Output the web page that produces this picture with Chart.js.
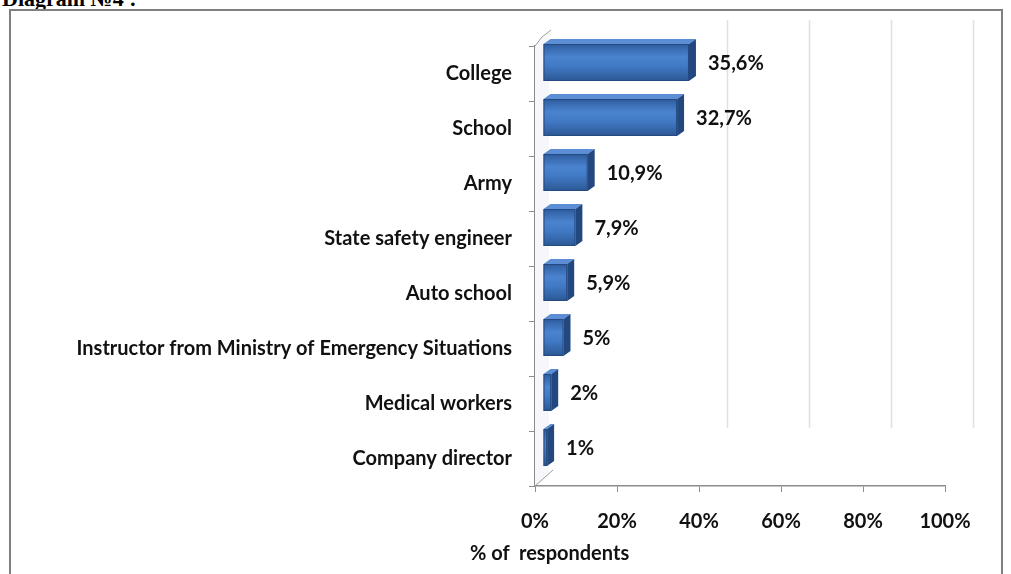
<!DOCTYPE html>
<html>
<head>
<meta charset="utf-8">
<script src="https://cdn.jsdelivr.net/npm/chart.js@4.4.0/dist/chart.umd.min.js"></script>
<style>
  body { margin: 0; background: #fff; width: 1011px; height: 574px; overflow: hidden; position: relative; }
  #heading { position: absolute; left: 2px; top: -14px; font: bold 22px "Liberation Serif", serif; color: #000; }
  #frame { position: absolute; left: 9px; top: 9px; width: 990px; height: 580px; border: 2px solid #808080; }
  #wrap { position: absolute; left: 0; top: 0; width: 1011px; height: 574px; }
  #xtitle { position: absolute; left: 470px; top: 540px; font: bold 20px Lato, sans-serif; color: #111; white-space: nowrap; }
</style>
</head>
<body>
<div id="heading">Diagram №4 :</div>
<div id="frame"></div>
<div id="wrap"><canvas id="chart" width="1011" height="574"></canvas></div>
<div id="xtitle">% of&nbsp; respondents</div>
<script>
// Chart data
const categories = ['College', 'School', 'Army', 'State safety engineer', 'Auto school',
    'Instructor from Ministry of Emergency Situations', 'Medical workers', 'Company director'];
const values = [35.6, 32.7, 10.9, 7.9, 5.9, 5, 2, 1];
const valueLabels = ['35,6%', '32,7%', '10,9%', '7,9%', '5,9%', '5%', '2%', '1%'];
const xTicks = [0, 20, 40, 60, 80, 100];

// 3D look: bars sit a bit up and right of the axis, with a thin top and right face
const shiftX = 8, shiftY = -11, depth = 7;
const wallX = 28, wallY = -26;

// back wall gridlines and the side wall edges
const wall3d = {
    id: 'wall3d',
    beforeDatasetsDraw(chart) {
        const ctx = chart.ctx;
        const area = chart.chartArea;
        const xs = chart.scales.x;
        ctx.save();
        ctx.strokeStyle = '#e0e0e0';
        ctx.lineWidth = 1.5;
        xTicks.slice(2).forEach(v => {
            const px = Math.round(xs.getPixelForValue(v)) + wallX + 0.5;
            ctx.beginPath();
            ctx.moveTo(px, area.top + wallY);
            ctx.lineTo(px, area.bottom - 58);
            ctx.stroke();
        });
        // side wall
        ctx.fillStyle = '#f5f7fa';
        ctx.beginPath();
        ctx.moveTo(area.left, area.top);
        ctx.lineTo(area.left + 14, area.top - 14);
        ctx.lineTo(area.left + 14, area.bottom - 14);
        ctx.lineTo(area.left, area.bottom);
        ctx.closePath();
        ctx.fill();
        ctx.strokeStyle = '#9a9a9a';
        ctx.lineWidth = 1;
        ctx.beginPath();
        ctx.moveTo(area.left, area.top);
        ctx.quadraticCurveTo(area.left + 6, area.top - 10, area.left + 16, area.top - 16);
        ctx.moveTo(area.left, area.bottom);
        ctx.lineTo(area.left + 18, area.bottom - 16);
        ctx.stroke();
        ctx.restore();
    }
};

// draw each bar box from the element position
const bar3d = {
    id: 'bar3d',
    afterDatasetsDraw(chart) {
        const ctx = chart.ctx;
        chart.getDatasetMeta(0).data.forEach(bar => {
            const x0 = bar.base + shiftX, x1 = bar.x + shiftX;
            const cy = bar.y + shiftY;
            const top = cy - bar.height / 2, bottom = cy + bar.height / 2;
            ctx.save();
            // front face
            const g = ctx.createLinearGradient(0, top, 0, bottom);
            g.addColorStop(0, '#2f5d9f');
            g.addColorStop(0.35, '#4a83cf');
            g.addColorStop(0.6, '#4179c4');
            g.addColorStop(1, '#2b5895');
            ctx.fillStyle = g;
            ctx.fillRect(x0, top, x1 - x0, bottom - top);
            ctx.strokeStyle = '#24497f';
            ctx.lineWidth = 1;
            ctx.strokeRect(x0 + 0.5, top + 0.5, x1 - x0 - 1, bottom - top - 1);
            // top face
            ctx.beginPath();
            ctx.moveTo(x0, top);
            ctx.lineTo(x0 + depth, top - depth + 2);
            ctx.lineTo(x1 + depth, top - depth + 2);
            ctx.lineTo(x1, top);
            ctx.closePath();
            ctx.fillStyle = '#5b8ed4';
            ctx.fill();
            // right face
            ctx.beginPath();
            ctx.moveTo(x1, top);
            ctx.lineTo(x1 + depth, top - depth + 2);
            ctx.lineTo(x1 + depth, bottom - depth + 2);
            ctx.lineTo(x1, bottom);
            ctx.closePath();
            ctx.fillStyle = '#22487f';
            ctx.fill();
            ctx.restore();
        });
    }
};

// value labels next to each bar
const valueText = {
    id: 'valueText',
    afterDatasetsDraw(chart) {
        const ctx = chart.ctx;
        ctx.save();
        ctx.font = 'bold 20px Lato, sans-serif';
        ctx.fillStyle = '#111';
        ctx.textBaseline = 'middle';
        chart.getDatasetMeta(0).data.forEach((bar, i) => {
            ctx.fillText(valueLabels[i], bar.x + shiftX + depth + 12, bar.y + shiftY + 1);
        });
        ctx.restore();
    }
};

const ctx = document.getElementById('chart').getContext('2d');
new Chart(ctx, {
    type: 'bar',
    data: {
        labels: categories,
        datasets: [{
            data: values,
            backgroundColor: 'rgba(0,0,0,0)',
            borderWidth: 0,
            barPercentage: 0.67,
            categoryPercentage: 1
        }]
    },
    options: {
        indexAxis: 'y',
        responsive: false,
        animation: false,
        layout: { padding: { top: 46, right: 66, left: 0, bottom: 0 } },
        plugins: { legend: { display: false }, tooltip: { enabled: false } },
        scales: {
            x: {
                min: 0,
                max: 100,
                afterBuildTicks: (scale) => { scale.ticks = xTicks.map(v => ({ value: v })); },
                afterFit: (scale) => { scale.height = 88; },
                border: { color: '#8c8c8c', width: 1.5 },
                grid: { drawOnChartArea: false, tickLength: 6, tickColor: '#8c8c8c' },
                ticks: {
                    padding: 18,
                    color: '#111',
                    font: { family: 'Lato', size: 20, weight: 'bold' },
                    callback: (v) => v + '%'
                }
            },
            y: {
                afterFit: (scale) => { scale.width = 535; },
                border: { color: '#8c8c8c', width: 1.5 },
                grid: { display: true, drawOnChartArea: false, offset: true, tickLength: 6, tickColor: '#8c8c8c' },
                ticks: {
                    padding: 17,
                    color: '#111',
                    font: { family: 'Lato', size: 20, weight: 'bold' }
                }
            }
        }
    },
    plugins: [wall3d, bar3d, valueText]
});
</script>
</body>
</html>
